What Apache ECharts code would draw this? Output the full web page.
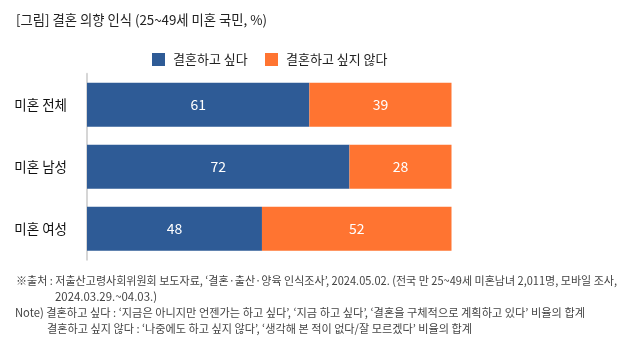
<!DOCTYPE html>
<html>
<head>
<meta charset="utf-8">
<script src="https://cdn.jsdelivr.net/npm/echarts@6/dist/echarts.min.js"></script>
<style>
  html, body { margin: 0; padding: 0; background: #fff; }
  #chart { width: 636px; height: 347px; }
</style>
</head>
<body>
<div id="chart"></div>
<script>
// Survey groups and shares (%)
const categories = ['미혼 전체', '미혼 남성', '미혼 여성'];
const seriesNames = ['결혼하고 싶다', '결혼하고 싶지 않다'];
const wantMarriage = [61, 72, 48];
const notWantMarriage = [39, 28, 52];

const titleText = '[그림] 결혼 의향 인식 (25~49세 미혼 국민, %)';
const noteLines = [
  '※출처 : 저출산고령사회위원회 보도자료, ‘결혼·출산·양육 인식조사’, 2024.05.02. (전국 만 25~49세 미혼남녀 2,011명, 모바일 조사,',
  '2024.03.29.~04.03.)',
  'Note) 결혼하고 싶다 : ‘지금은 아니지만 언젠가는 하고 싶다’, ‘지금 하고 싶다’, ‘결혼을 구체적으로 계획하고 있다’ 비율의 합계',
  '결혼하고 싶지 않다 : ‘나중에도 하고 싶지 않다’, ‘생각해 본 적이 없다/잘 모르겠다’ 비율의 합계'
];

const FONT = '"Noto Sans CJK KR", "Noto Sans", sans-serif';
const BLUE = '#2e5b96';
const ORANGE = '#ff7431';

// Horizontal squeeze so a line of text fits a given width
const measureCtx = document.createElement('canvas').getContext('2d');
function fitScale(text, size, width) {
  measureCtx.font = size + 'px ' + FONT;
  const w = measureCtx.measureText(text).width;
  return Math.min(1, width / w);
}

function textLine(text, x, y, size, color, width) {
  return {
    type: 'text',
    x: x,
    y: y,
    scaleX: fitScale(text, size, width),
    style: {
      text: text,
      fill: color,
      font: size + 'px ' + FONT,
      textVerticalAlign: 'middle',
      verticalAlign: 'middle'
    }
  };
}

const chart = echarts.init(document.getElementById('chart'));

chart.setOption({
  animation: false,
  backgroundColor: '#fff',
  textStyle: { fontFamily: FONT },
  legend: [
    {
      data: [seriesNames[0]],
      left: 147, top: 48,
      itemWidth: 13, itemHeight: 13,
      icon: 'rect',
      textStyle: { fontSize: 13, color: '#222', fontFamily: FONT, padding: [0, 0, 0, 3] }
    },
    {
      data: [seriesNames[1]],
      left: 260, top: 48,
      itemWidth: 13, itemHeight: 13,
      icon: 'rect',
      textStyle: { fontSize: 13, color: '#222', fontFamily: FONT, padding: [0, 0, 0, 3] }
    }
  ],
  grid: { left: 87, right: 184.5, top: 73.7, height: 186, containLabel: false },
  xAxis: {
    type: 'value',
    min: 0, max: 100,
    show: false
  },
  yAxis: {
    type: 'category',
    data: categories,
    inverse: true,
    offset: 1,
    axisLine: { show: true, lineStyle: { color: '#d6d6d6', width: 2 } },
    axisTick: { show: false },
    axisLabel: { fontSize: 13.5, color: '#111', margin: 19, fontFamily: FONT }
  },
  series: [
    {
      name: seriesNames[0],
      type: 'bar',
      stack: 'total',
      barWidth: 44,
      data: wantMarriage,
      itemStyle: { color: BLUE },
      label: { show: true, position: 'inside', color: '#fff', fontSize: 14, fontFamily: FONT }
    },
    {
      name: seriesNames[1],
      type: 'bar',
      stack: 'total',
      barWidth: 44,
      data: notWantMarriage,
      itemStyle: { color: ORANGE },
      label: { show: true, position: 'inside', color: '#fff', fontSize: 14, fontFamily: FONT }
    }
  ],
  graphic: [
    textLine(titleText, 16, 20, 13.5, '#222', 251),
    textLine(noteLines[0], 16, 281, 11.5, '#444', 601),
    textLine(noteLines[1], 55, 297, 11.5, '#444', 102),
    textLine(noteLines[2], 15, 313, 11.5, '#444', 570),
    textLine(noteLines[3], 47, 329, 11.5, '#444', 425)
  ]
});
</script>
</body>
</html>
